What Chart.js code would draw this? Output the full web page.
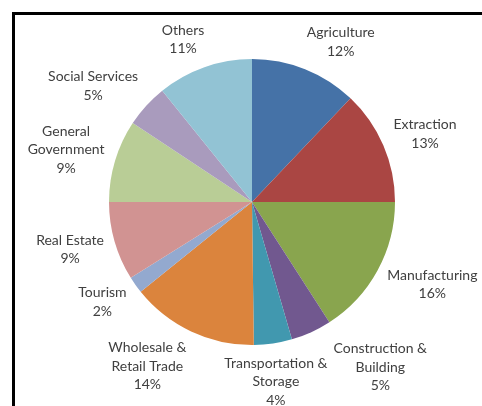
<!DOCTYPE html>
<html>
<head>
<meta charset="utf-8">
<script src="https://cdn.jsdelivr.net/npm/chart.js@4"></script>
<style>
  html, body { margin: 0; padding: 0; background: #fff; overflow: hidden; }
  #wrap { position: relative; width: 482px; height: 406px; }
  #frame { position: absolute; left: 12px; top: 12px; width: 600px; height: 600px; border: 3px solid #000; box-sizing: border-box; }
  canvas { position: absolute; left: 0; top: 0; }
</style>
</head>
<body>
<div id="wrap">
  <div id="frame"></div>
  <canvas id="myChart" width="482" height="406"></canvas>
</div>
<script>
// sectors, clockwise from 12 o'clock
const sectors = [
  ['Agriculture'],
  ['Extraction'],
  ['Manufacturing'],
  ['Construction &', 'Building'],
  ['Transportation &', 'Storage'],
  ['Wholesale &', 'Retail Trade'],
  ['Tourism'],
  ['Real Estate'],
  ['General', 'Government'],
  ['Social Services'],
  ['Others']
];
const shares = [12.1, 12.9, 15.9, 4.6, 4.3, 14.4, 1.9, 8.9, 9.3, 4.9, 10.8];
const colors = ['#4572A7', '#AA4643', '#89A54E', '#71588F', '#4198AF', '#DB843D',
                '#93A9CF', '#D19392', '#B9CD96', '#A99BBD', '#92C3D4'];

const FONT = '14px Lato';
const LINE_H = 18.5;

// outside-end labels, placed along the middle angle of each slice
const outsideLabels = {
  id: 'outsideLabels',
  afterDatasetsDraw(chart) {
    const ctx = chart.ctx;
    const arcs = chart.getDatasetMeta(0).data;
    const total = shares.reduce((a, b) => a + b, 0);
    ctx.save();
    ctx.font = FONT;
    const boxes = arcs.map((arc, i) => {
      const lines = sectors[i].concat([Math.round(shares[i] / total * 100) + '%']);
      const w = Math.max(...lines.map(l => ctx.measureText(l).width));
      const h = lines.length * LINE_H;
      const mid = (arc.startAngle + arc.endAngle) / 2;
      const th = mid + Math.PI / 2; // angle from top
      const rr = arc.outerRadius + 11;
      const ax = arc.x + Math.sin(th) * rr;
      const ay = arc.y - Math.cos(th) * rr;
      const k = Math.max(-1, Math.min(1, Math.sin(th) * 2.5));
      return { lines, w, h, cx: ax + w / 2 * k, cy: ay - h / 2 * Math.cos(th) };
    });
    // push apart neighbours that overlap
    for (let i = 1; i < boxes.length; i++) {
      const a = boxes[i - 1], b = boxes[i];
      const ox = (a.w + b.w) / 2 + 6 - Math.abs(a.cx - b.cx);
      const oy = (a.h + b.h) / 2 - Math.abs(a.cy - b.cy);
      if (ox > 0 && oy > 0) {
        const dir = a.cx > b.cx ? 1 : -1;
        a.cx += dir * ox / 2;
        b.cx -= dir * ox / 2;
      }
    }
    ctx.fillStyle = '#404040';
    ctx.textAlign = 'center';
    ctx.textBaseline = 'middle';
    boxes.forEach(b => {
      b.lines.forEach((l, j) => {
        ctx.fillText(l, b.cx, b.cy - b.h / 2 + LINE_H * (j + 0.5));
      });
    });
    ctx.restore();
  }
};

new Chart(document.getElementById('myChart').getContext('2d'), {
  type: 'pie',
  data: {
    labels: sectors.map(s => s.join(' ')),
    datasets: [{
      data: shares,
      backgroundColor: colors,
      borderWidth: 0
    }]
  },
  options: {
    responsive: false,
    animation: false,
    layout: { padding: { left: 109, right: 87, top: 59, bottom: 61 } },
    plugins: {
      legend: { display: false },
      tooltip: { enabled: false }
    }
  },
  plugins: [outsideLabels]
});
</script>
</body>
</html>
